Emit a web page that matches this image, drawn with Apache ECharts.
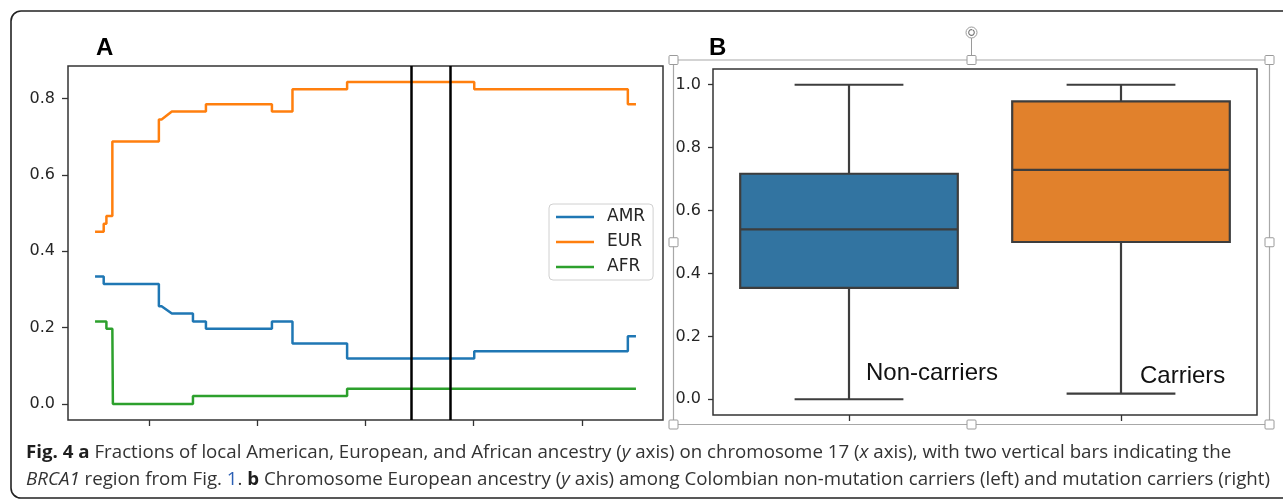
<!DOCTYPE html>
<html>
<head>
<meta charset="utf-8">
<script src="https://cdn.jsdelivr.net/npm/echarts@6/dist/echarts.min.js"></script>
<style>
  html, body { margin: 0; padding: 0; background: #fff; }
  #chart { width: 1283px; height: 500px; }
</style>
</head>
<body>
<div id="chart"></div>
<script>
// ---------- Panel A data (position along chromosome 17, arbitrary units 0..100) ----------
const amrX = [0,1.6,1.6,11.8,11.8,12.3,14.2,18.1,18.1,20.5,20.5,32.7,32.7,36.5,36.5,46.6,46.6,70.1,70.1,98.5,98.5,100];
const amrY = [0.334,0.334,0.314,0.314,0.256,0.256,0.237,0.237,0.216,0.216,0.197,0.197,0.216,0.216,0.158,0.158,0.119,0.119,0.138,0.138,0.177,0.177];
const eurX = [0,1.6,1.6,2.1,2.1,3.2,3.2,11.8,11.8,12.3,14.2,20.5,20.5,32.7,32.7,36.5,36.5,46.6,46.6,70.1,70.1,98.5,98.5,100];
const eurY = [0.451,0.451,0.472,0.472,0.492,0.492,0.687,0.687,0.745,0.745,0.766,0.766,0.785,0.785,0.766,0.766,0.824,0.824,0.843,0.843,0.824,0.824,0.785,0.785];
const afrX = [0,2.1,2.1,3.2,3.3,18.1,18.1,46.6,46.6,100];
const afrY = [0.216,0.216,0.197,0.197,0.0,0.0,0.021,0.021,0.040,0.040];
const brcaBounds = [58.4, 65.6];
const seriesNames = ['AMR', 'EUR', 'AFR'];
const xTicksA = [10, 30, 50, 70, 90];
const yTicksA = [0.0, 0.2, 0.4, 0.6, 0.8];

// ---------- Panel B data ----------
const groups = ['Non-carriers', 'Carriers'];
const whiskerLow = [0.0, 0.018];
const q1 = [0.354, 0.500];
const median = [0.540, 0.729];
const q3 = [0.717, 0.947];
const whiskerHigh = [1.0, 1.0];
const yTicksB = [0.0, 0.2, 0.4, 0.6, 0.8, 1.0];

const lineColors = ['#1f77b4', '#ff7f0e', '#2ca02c'];
const boxColors = ['#3274a1', '#e1812c'];

function zip(xs, ys) { return xs.map((x, i) => [x, ys[i]]); }

// ---------- caption ----------
const cap1 = [['b','Fig. 4 a'],['r',' Fractions of local American, European, and African ancestry ('],['i','y'],['r',' axis) on chromosome 17 ('],['i','x'],['r',' axis), with two vertical bars indicating the']];
const cap2 = [['i','BRCA1'],['r',' region from Fig. '],['l','1'],['r','. '],['b','b'],['r',' Chromosome European ancestry ('],['i','y'],['r',' axis) among Colombian non-mutation carriers (left) and mutation carriers (right)']];
const capFont = '"Open Sans", "Noto Sans", sans-serif';
const capSize = 18;
function measure(segs) {
  const c = document.createElement('canvas').getContext('2d');
  let w = 0;
  segs.forEach(([s, t]) => {
    c.font = (s === 'i' ? 'italic ' : '') + (s === 'b' ? 'bold ' : '') + capSize + 'px ' + capFont;
    w += c.measureText(t).width;
  });
  return w;
}
const capScale = 1244 / measure(cap2);
function rich(segs) { return segs.map(([s, t]) => '{' + s + '|' + t + '}').join(''); }
const capRich = {
  r: { fill: '#333', color: '#333', fontSize: capSize, fontFamily: capFont },
  b: { fill: '#1e1e1e', color: '#1e1e1e', fontSize: capSize, fontFamily: capFont, fontWeight: 'bold' },
  i: { fill: '#333', color: '#333', fontSize: capSize, fontFamily: capFont, fontStyle: 'italic' },
  l: { fill: '#2b5fb4', color: '#2b5fb4', fontSize: capSize, fontFamily: capFont }
};

const chart = echarts.init(document.getElementById('chart'), null, { renderer: 'canvas' });

const axisTextA = { color: '#262626', fontSize: 16, fontFamily: 'DejaVu Sans' };

// selection handles for panel B
const selL = 673.5, selR = 1269.5, selT = 60, selB = 424.5;
const selMidX = (selL + selR) / 2, selMidY = (selT + selB) / 2;
const handlePts = [[selL, selT],[selMidX, selT],[selR, selT],[selL, selMidY],[selR, selMidY],[selL, selB],[selMidX, selB],[selR, selB]];
const handleGraphics = handlePts.map(([x, y]) => ({
  type: 'rect', shape: { x: x - 4.5, y: y - 4.5, width: 9, height: 9, r: 1 },
  style: { fill: '#fff', stroke: '#9a9a9a', lineWidth: 1 }, z: 20
}));

const tickStyle = { color: '#333', width: 1.3 };

const option = {
  animation: false,
  backgroundColor: '#fff',
  grid: [
    { left: 68, top: 66, width: 595, height: 354, show: true, borderColor: '#333', borderWidth: 1.5, backgroundColor: 'transparent' },
    { left: 713, top: 69, width: 544, height: 346, show: true, borderColor: '#333', borderWidth: 1.5, backgroundColor: 'transparent' }
  ],
  xAxis: [
    {
      type: 'value', gridIndex: 0, min: -5, max: 105, position: 'bottom',
      axisLine: { show: false, onZero: false }, splitLine: { show: false },
      axisLabel: { show: false },
      axisTick: { show: true, inside: false, length: 6, customValues: xTicksA, lineStyle: tickStyle }
    },
    {
      type: 'category', gridIndex: 1, data: groups, boundaryGap: true, position: 'bottom',
      axisLine: { show: false, onZero: false }, splitLine: { show: false },
      axisLabel: { show: false },
      axisTick: { show: true, alignWithLabel: true, length: 6, lineStyle: tickStyle }
    }
  ],
  yAxis: [
    {
      type: 'value', gridIndex: 0, min: -0.042, max: 0.885, position: 'left',
      axisLine: { show: false, onZero: false }, splitLine: { show: false },
      axisLabel: { show: true, customValues: yTicksA, margin: 13, formatter: v => v.toFixed(1), ...axisTextA },
      axisTick: { show: true, length: 6, customValues: yTicksA, lineStyle: tickStyle }
    },
    {
      type: 'value', gridIndex: 1, min: -0.05, max: 1.05, position: 'left',
      axisLine: { show: false, onZero: false }, splitLine: { show: false },
      axisLabel: { show: true, customValues: yTicksB, margin: 12, formatter: v => v.toFixed(1), ...axisTextA },
      axisTick: { show: true, length: 5, customValues: yTicksB, lineStyle: tickStyle }
    }
  ],
  legend: {
    data: seriesNames,
    left: 549, top: 204, orient: 'vertical',
    icon: 'rect', itemWidth: 38, itemHeight: 2.6, itemGap: 5,
    padding: [3, 8, 3, 7],
    borderColor: '#d0d0d0', borderWidth: 1, borderRadius: 4, backgroundColor: 'rgba(255,255,255,0.8)',
    selectedMode: false,
    textStyle: { fontSize: 17, fontFamily: 'DejaVu Sans', color: '#262626', lineHeight: 20, padding: [0, 0, 0, 8] }
  },
  series: [
    {
      name: seriesNames[0], type: 'line', xAxisIndex: 0, yAxisIndex: 0,
      data: zip(amrX, amrY), showSymbol: false, symbol: 'none',
      lineStyle: { color: lineColors[0], width: 2.5 }, itemStyle: { color: lineColors[0] }, z: 3
    },
    {
      name: seriesNames[1], type: 'line', xAxisIndex: 0, yAxisIndex: 0,
      data: zip(eurX, eurY), showSymbol: false, symbol: 'none',
      lineStyle: { color: lineColors[1], width: 2.5 }, itemStyle: { color: lineColors[1] }, z: 3
    },
    {
      name: seriesNames[2], type: 'line', xAxisIndex: 0, yAxisIndex: 0,
      data: zip(afrX, afrY), showSymbol: false, symbol: 'none',
      lineStyle: { color: lineColors[2], width: 2.5 }, itemStyle: { color: lineColors[2] }, z: 3,
      markLine: {
        silent: true, symbol: ['none', 'none'], label: { show: false },
        lineStyle: { color: '#000', width: 2.5, type: 'solid' },
        emphasis: { disabled: true },
        data: brcaBounds.map(v => ({ xAxis: v }))
      }
    },
    {
      type: 'custom', xAxisIndex: 1, yAxisIndex: 1,
      data: groups.map((g, i) => [i, whiskerLow[i], q1[i], median[i], q3[i], whiskerHigh[i]]),
      encode: { x: 0, y: [1, 2, 3, 4, 5] },
      renderItem: function (params, api) {
        const i = api.value(0);
        const band = api.size([1, 0])[0];
        const bw = band * 0.8, cw = band * 0.4;
        const pLo = api.coord([i, api.value(1)]);
        const pQ1 = api.coord([i, api.value(2)]);
        const pMed = api.coord([i, api.value(3)]);
        const pQ3 = api.coord([i, api.value(4)]);
        const pHi = api.coord([i, api.value(5)]);
        const cx = pQ1[0];
        const st = { stroke: '#3d3d3d', lineWidth: 2.2, fill: null };
        return {
          type: 'group',
          children: [
            { type: 'line', shape: { x1: cx, y1: pQ3[1], x2: cx, y2: pHi[1] }, style: st },
            { type: 'line', shape: { x1: cx, y1: pQ1[1], x2: cx, y2: pLo[1] }, style: st },
            { type: 'line', shape: { x1: cx - cw / 2, y1: pHi[1], x2: cx + cw / 2, y2: pHi[1] }, style: st },
            { type: 'line', shape: { x1: cx - cw / 2, y1: pLo[1], x2: cx + cw / 2, y2: pLo[1] }, style: st },
            { type: 'rect', shape: { x: cx - bw / 2, y: pQ3[1], width: bw, height: pQ1[1] - pQ3[1] },
              style: { fill: boxColors[i], stroke: '#3d3d3d', lineWidth: 2.2 } },
            { type: 'line', shape: { x1: cx - bw / 2, y1: pMed[1], x2: cx + bw / 2, y2: pMed[1] }, style: st }
          ]
        };
      },
      z: 3
    }
  ],
  graphic: [
    // figure frame
    { type: 'rect', shape: { x: 11, y: 11, width: 1300, height: 487, r: 10 },
      style: { fill: null, stroke: '#222', lineWidth: 1.6 }, z: 1, silent: true },
    // panel letters
    { type: 'text', left: 96, top: 36, style: { text: 'A', fontSize: 24, fontWeight: 'bold', fontFamily: 'Liberation Sans', fill: '#000' }, z: 10 },
    { type: 'text', left: 709, top: 36, style: { text: 'B', fontSize: 24, fontWeight: 'bold', fontFamily: 'Liberation Sans', fill: '#000' }, z: 10 },
    // in-plot group labels
    { type: 'text', x: 866, y: 373, style: { text: groups[0], fontSize: 24, fontFamily: 'Liberation Sans', fill: '#111', verticalAlign: 'middle', textVerticalAlign: 'middle' }, z: 10 },
    { type: 'text', x: 1140, y: 376, style: { text: groups[1], fontSize: 24, fontFamily: 'Liberation Sans', fill: '#111', verticalAlign: 'middle', textVerticalAlign: 'middle' }, z: 10 },
    // selection frame
    { type: 'rect', shape: { x: selL, y: selT, width: selR - selL, height: selB - selT },
      style: { fill: null, stroke: '#a8a8a8', lineWidth: 1.2 }, z: 19, silent: true },
    { type: 'line', shape: { x1: selMidX, y1: 38, x2: selMidX, y2: selT - 4.5 }, style: { stroke: '#9a9a9a', lineWidth: 1 }, z: 19 },
    { type: 'circle', shape: { cx: selMidX, cy: 32.5, r: 5.5 }, style: { fill: '#fff', stroke: '#9a9a9a', lineWidth: 1 }, z: 19 },
    { type: 'arc', shape: { cx: selMidX, cy: 32.5, r: 2.8, startAngle: -Math.PI * 0.35, endAngle: Math.PI * 1.6, clockwise: true }, style: { fill: null, stroke: '#777', lineWidth: 1.1 }, z: 20 },
    ...handleGraphics,
    // caption
    { type: 'group', x: 26, y: 0, scaleX: capScale, children: [
      { type: 'text', x: 0, y: 462, style: { text: rich(cap1), rich: capRich, fontSize: capSize, fontFamily: capFont, fill: '#333', verticalAlign: 'bottom', textVerticalAlign: 'bottom' } },
      { type: 'text', x: 0, y: 489, style: { text: rich(cap2), rich: capRich, fontSize: capSize, fontFamily: capFont, fill: '#333', verticalAlign: 'bottom', textVerticalAlign: 'bottom' } }
    ] }
  ]
};
chart.setOption(option);
</script>
</body>
</html>
